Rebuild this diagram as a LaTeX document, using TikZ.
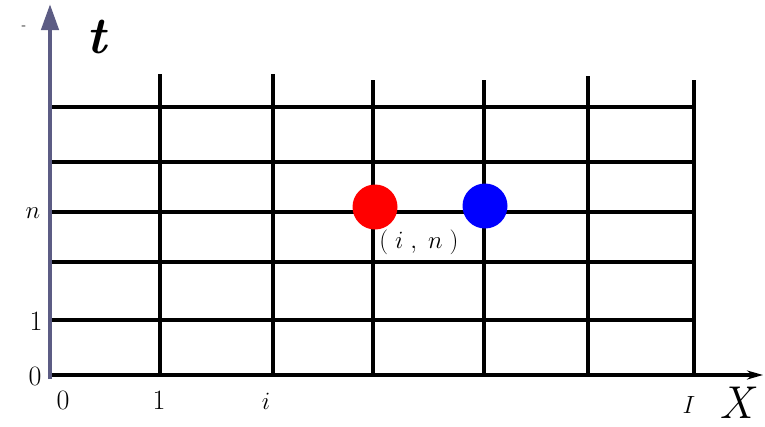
\documentclass[tikz,border=0pt]{standalone}
\usepackage{amsmath,amssymb}
\usepackage{tikz}
\usetikzlibrary{arrows.meta,calc,positioning}
\definecolor{axiscolor}{RGB}{92,92,132}
\definecolor{ptred}{RGB}{255,0,0}
\definecolor{ptblue}{RGB}{0,0,255}

\begin{document}
\begin{tikzpicture}[x=1pt,y=-1pt,
  grid/.style={line width=3.2pt,black},
  lbl/.style={font=\fontsize{28}{28}\selectfont,inner sep=0pt},
  sublbl/.style={font=\fontsize{24}{24}\selectfont,inner sep=0pt},
  pt/.style={circle,fill=#1,minimum size=45pt,inner sep=0pt},
  >={Stealth}]
  \useasboundingbox (0,0) rectangle (765,426);
  % horizontal time levels
  \foreach \y in {107,162,212,262,320}
    \draw[grid] (50,\y) -- (695,\y);
  % vertical space nodes
  \foreach \x/\top in {160/74,273/74,373/80,484/80,588/76,694/80}
    \draw[grid] (\x,\top) -- (\x,375);
  % axes
  \coordinate (o) at (50,375);
  \coordinate (xend) at (763,375);
  \coordinate (tend) at (50,4);
  \draw[line width=3.2pt,-{Stealth[length=16pt,width=9pt]}] (o) -- (xend);
  \draw[axiscolor,line width=4.5pt,-{Triangle[length=26pt,width=17pt]}] (50,379) -- (tend);
  \node[font=\fontsize{52}{52}\selectfont\bfseries\itshape,inner sep=0pt] (tlab) at (97,37) {t};
  \node[font=\fontsize{46}{46}\selectfont\itshape,inner sep=0pt] (xlab) at (736,403) {X};
  \node[font=\fontsize{14}{14}\selectfont,inner sep=0pt] (dash) at (24,28) {-};
  % level labels
  \node[lbl] (ln) at (33,213) {$n$};
  \node[lbl] (l1) at (36,321) {1};
  \node[lbl] (l0) at (35,376) {0};
  % node labels
  \node[lbl] (x0) at (63,400) {0};
  \node[lbl] (x1) at (159,400) {1};
  \node[sublbl] (xi) at (266,401) {$i$};
  \node[sublbl] (xI) at (689,405) {$I$};
  % points
  \node[pt=ptred] (red) at (375,207) {};
  \node[pt=ptblue] (blue) at (485,206) {};
  \node[lbl] (lab) at (419,242) {$(\;i\;,\;n\;)$};
\end{tikzpicture}
\end{document}
